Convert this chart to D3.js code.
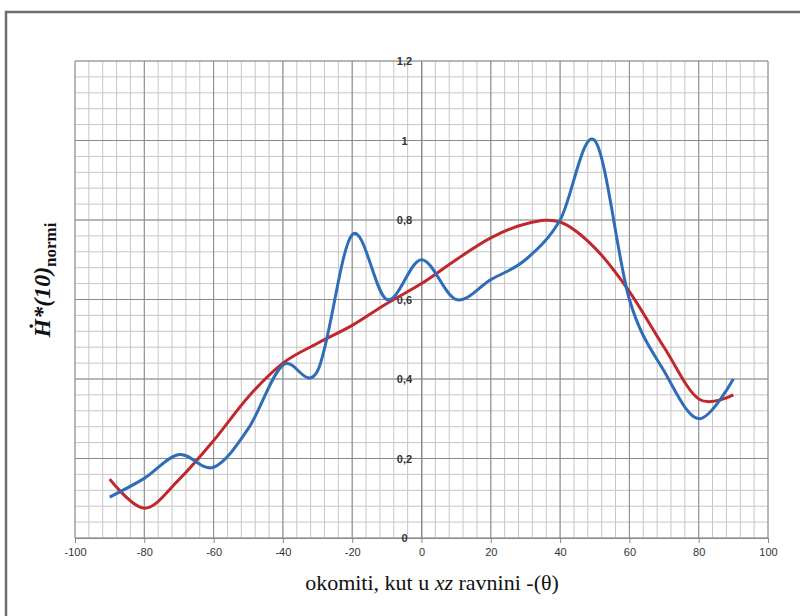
<!DOCTYPE html>
<html>
<head>
<meta charset="utf-8">
<script src="https://cdn.jsdelivr.net/npm/d3@7"></script>
<style>
html,body{margin:0;padding:0;background:#fff;}
svg{display:block;}
</style>
</head>
<body>
<script>
// ---- data ----
const angles = [-90,-80,-70,-60,-50,-40,-30,-20,-10,0,10,20,30,40,50,60,70,80,90];
const measured = [0.103,0.15,0.21,0.178,0.275,0.435,0.42,0.763,0.60,0.70,0.60,0.65,0.70,0.80,1.00,0.60,0.42,0.30,0.40];
const fitted   = [0.148,0.075,0.147,0.245,0.355,0.44,0.49,0.535,0.59,0.64,0.70,0.755,0.79,0.795,0.73,0.62,0.48,0.35,0.36];
const xTicks = [-100,-80,-60,-40,-20,0,20,40,60,80,100];
const yTicks = [0,0.2,0.4,0.6,0.8,1,1.2];

const W = 800, H = 616;
const svg = d3.select("body").append("svg").attr("width", W).attr("height", H);

// outer frame
svg.append("rect").attr("x",6).attr("y",12).attr("width",W+20).attr("height",H+20)
  .attr("fill","none").attr("stroke","#6e6e6e").attr("stroke-width",2.5);

const x = d3.scaleLinear().domain([-100,100]).range([75,768]);
const y = d3.scaleLinear().domain([0,1.2]).range([538,61]);

const g = svg.append("g");

// minor grid
const minorX = d3.range(-100,100.001,4);
const minorY = d3.range(0,1.2001,0.04);
g.selectAll(".mx").data(minorX).enter().append("line")
  .attr("x1",d=>x(d)).attr("x2",d=>x(d)).attr("y1",y(0)).attr("y2",y(1.2))
  .attr("stroke","#c6c6c6").attr("stroke-width",1);
g.selectAll(".my").data(minorY).enter().append("line")
  .attr("y1",d=>y(d)).attr("y2",d=>y(d)).attr("x1",x(-100)).attr("x2",x(100))
  .attr("stroke","#c6c6c6").attr("stroke-width",1);
// major grid
g.selectAll(".Mx").data(xTicks).enter().append("line")
  .attr("x1",d=>x(d)).attr("x2",d=>x(d)).attr("y1",y(0)).attr("y2",y(1.2))
  .attr("stroke","#8a8a8a").attr("stroke-width",1);
g.selectAll(".My").data(yTicks).enter().append("line")
  .attr("y1",d=>y(d)).attr("y2",d=>y(d)).attr("x1",x(-100)).attr("x2",x(100))
  .attr("stroke","#8a8a8a").attr("stroke-width",1);

// x axis along y=0
const xAxis = d3.axisBottom(x).tickValues(xTicks).tickSize(5).tickFormat(d3.format("d"));
const xa = svg.append("g").attr("transform",`translate(0,${y(0)})`).call(xAxis);
xa.select(".domain").attr("stroke","#8a8a8a");
xa.selectAll(".tick line").attr("stroke","#8a8a8a");
xa.selectAll("text").attr("fill","#333").attr("font-family","Liberation Sans, Arial, sans-serif")
  .attr("font-size",11).attr("dy","0.9em").text(d=>d3.format("d")(d).replace("−","-"));

// y axis at x=0 (labels only, left of axis)
const yAxis = d3.axisLeft(y).tickValues(yTicks).tickSize(0)
  .tickFormat(d=>String(d).replace(".",","));
const ya = svg.append("g").attr("transform",`translate(${x(0)},0)`).call(yAxis);
ya.select(".domain").attr("stroke","#8a8a8a");
ya.selectAll("text").attr("fill","#333").attr("font-family","Liberation Sans, Arial, sans-serif")
  .attr("font-size",11).attr("font-weight","bold").attr("text-anchor","middle").attr("x",-17);

// lines
const line = d3.line().curve(d3.curveCardinal.tension(0));
const ptsM = angles.map((a,i)=>[x(a),y(measured[i])]);
const ptsF = angles.map((a,i)=>[x(a),y(fitted[i])]);
svg.append("path").attr("d",line(ptsF)).attr("fill","none")
  .attr("stroke","#c0282d").attr("stroke-width",3);
svg.append("path").attr("d",line(ptsM)).attr("fill","none")
  .attr("stroke","#2f6db8").attr("stroke-width",3);

// x title
const xt = svg.append("text").attr("x",432).attr("y",590).attr("text-anchor","middle")
  .attr("font-family","Liberation Serif, Times New Roman, serif").attr("font-size",22).attr("fill","#111");
xt.append("tspan").text("okomiti, kut u ");
xt.append("tspan").attr("font-style","italic").text("xz");
xt.append("tspan").text(" ravnini -(θ)");

// y title
const yt = svg.append("text").attr("transform","translate(50,280) rotate(-90)").attr("text-anchor","middle")
  .attr("font-family","Liberation Serif, Times New Roman, serif").attr("font-size",24)
  .attr("font-weight","bold").attr("fill","#111");
yt.append("tspan").attr("font-style","italic").text("Ḣ*(10)");
yt.append("tspan").attr("font-size",17).attr("dy",6).text("normi");
</script>
</body>
</html>
